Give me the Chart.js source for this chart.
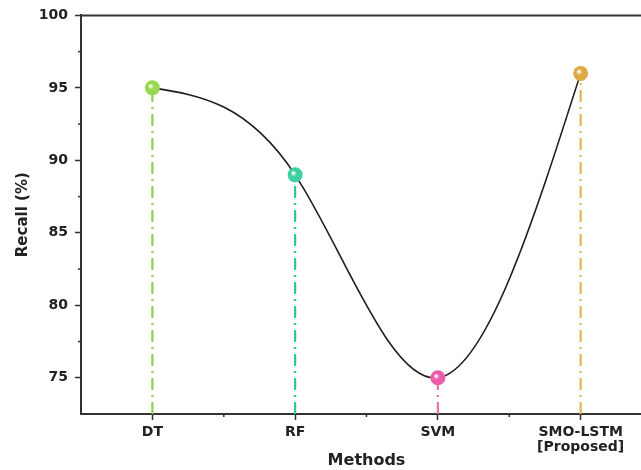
<!DOCTYPE html>
<html>
<head>
<meta charset="utf-8">
<script src="https://cdn.jsdelivr.net/npm/chart.js@4"></script>
<style>
html,body{margin:0;padding:0;background:#fff;overflow:hidden;}
#wrap{width:662px;height:470px;}
</style>
</head>
<body>
<div id="wrap"><canvas id="c" width="662" height="470"></canvas></div>
<script>
const categories = ["DT", "RF", "SVM", ["SMO-LSTM", "[Proposed]"]];
const recall = [95, 89, 75, 96];
const pointColors = ["#97d94e", "#3fd0a2", "#ec5aa8", "#ddaa45"];
const lineColors = ["#8fd24a", "#34c4a0", "#e870b0", "#e3b650"];
const yTicks = [75, 80, 85, 90, 95, 100];

const Y_MIN = 72.5, Y_MAX = 100;
const FONT = "'DejaVu Sans', Arial, sans-serif";

const curveData = recall.map((v, i) => ({x: i, y: v}));

const dropSets = recall.map((v, i) => ({
  type: 'line',
  data: [{x: i, y: Y_MIN}, {x: i, y: v}],
  borderColor: lineColors[i],
  borderWidth: 2.2,
  borderDash: [12, 5, 2, 5],
  pointRadius: 0,
  tension: 0,
  order: 3
}));

function ballColor(ctx) {
  const chart = ctx.chart;
  if (!chart.chartArea || ctx.type !== 'data') return pointColors[ctx.dataIndex] || '#888';
  const xs = chart.scales.x, ys = chart.scales.y;
  const px = xs.getPixelForValue(ctx.dataIndex);
  const py = ys.getPixelForValue(recall[ctx.dataIndex]);
  const g = chart.ctx.createRadialGradient(px - 2, py - 2, 0.5, px, py, 8);
  g.addColorStop(0, '#ffffff');
  g.addColorStop(0.35, pointColors[ctx.dataIndex]);
  g.addColorStop(1, pointColors[ctx.dataIndex]);
  return g;
}

// natural cubic spline slopes through the data (data space)
function splineSlopes(ys) {
  const n = ys.length;
  // second derivatives with natural end conditions, h = 1
  const M = new Array(n).fill(0);
  if (n > 2) {
    const a = [], b = [], c = [], d = [];
    for (let i = 1; i < n - 1; i++) {
      a.push(1); b.push(4); c.push(1);
      d.push(6 * (ys[i - 1] - 2 * ys[i] + ys[i + 1]));
    }
    const m = b.length;
    for (let i = 1; i < m; i++) {
      const w = a[i] / b[i - 1];
      b[i] -= w * c[i - 1];
      d[i] -= w * d[i - 1];
    }
    const sol = new Array(m);
    sol[m - 1] = d[m - 1] / b[m - 1];
    for (let i = m - 2; i >= 0; i--) sol[i] = (d[i] - c[i] * sol[i + 1]) / b[i];
    for (let i = 0; i < m; i++) M[i + 1] = sol[i];
  }
  const s = [];
  for (let i = 0; i < n; i++) {
    if (i < n - 1) s.push((ys[i + 1] - ys[i]) - (2 * M[i] + M[i + 1]) / 6);
    else s.push((ys[i] - ys[i - 1]) + (M[i - 1] + 2 * M[i]) / 6);
  }
  return s;
}

const splineCurve = {
  id: 'splineCurve',
  beforeDatasetsDraw(chart) {
    const c = chart.ctx, xs = chart.scales.x, ys = chart.scales.y;
    const s = splineSlopes(recall);
    const P = (x, y) => [xs.getPixelForValue(x), ys.getPixelForValue(y)];
    c.save();
    c.strokeStyle = '#1e1e1e';
    c.lineWidth = 1.6;
    c.beginPath();
    let p0 = P(0, recall[0]);
    c.moveTo(p0[0], p0[1]);
    for (let i = 0; i < recall.length - 1; i++) {
      const c1 = P(i + 1 / 3, recall[i] + s[i] / 3);
      const c2 = P(i + 2 / 3, recall[i + 1] - s[i + 1] / 3);
      const p1 = P(i + 1, recall[i + 1]);
      c.bezierCurveTo(c1[0], c1[1], c2[0], c2[1], p1[0], p1[1]);
    }
    c.stroke();
    c.restore();
  }
};

const minorTicks = {
  id: 'minorTicks',
  afterDraw(chart) {
    const c = chart.ctx, xs = chart.scales.x, ys = chart.scales.y, a = chart.chartArea;
    c.save();
    c.strokeStyle = '#333';
    c.lineWidth = 1.5;
    for (let v = 77.5; v < Y_MAX; v += 5) {
      const py = ys.getPixelForValue(v);
      c.beginPath(); c.moveTo(a.left, py); c.lineTo(a.left - 3, py); c.stroke();
    }
    for (let i = 0; i < recall.length - 1; i++) {
      const px = xs.getPixelForValue(i + 0.5);
      c.beginPath(); c.moveTo(px, a.bottom); c.lineTo(px, a.bottom + 3); c.stroke();
    }
    c.lineWidth = 2;
    c.beginPath();
    c.moveTo(a.left, a.top); c.lineTo(a.right, a.top); c.lineTo(a.right, a.bottom);
    c.stroke();
    c.restore();
  }
};

new Chart(document.getElementById('c'), {
  data: {
    datasets: [
      {
        type: 'scatter',
        data: curveData,
        pointRadius: 7.5,
        pointBackgroundColor: ballColor,
        pointBorderColor: 'rgba(0,0,0,0)',
        pointBorderWidth: 0,
        order: 1
      },
      ...dropSets
    ]
  },
  options: {
    responsive: false,
    animation: false,
    layout: {padding: {top: 15, right: 10, left: 0, bottom: 0}},
    plugins: {legend: {display: false}, tooltip: {enabled: false}},
    scales: {
      x: {
        type: 'linear',
        min: -0.5,
        max: recall.length - 0.5,
        afterBuildTicks(scale) { scale.ticks = categories.map((c, i) => ({value: i})); },
        afterFit(scale) { scale.height = 56; },
        ticks: {
          callback: (v) => categories[v],
          color: '#222',
          font: {family: FONT, size: 14, weight: 'bold', lineHeight: 1.05},
          padding: 5,
          maxRotation: 0,
          autoSkip: false
        },
        grid: {display: true, drawOnChartArea: false, drawTicks: true, tickLength: 6, tickColor: '#333', tickWidth: 1.5},
        border: {display: true, color: '#333', width: 2},
        title: {display: true, text: 'Methods', color: '#222', font: {family: FONT, size: 16, weight: 'bold'}, padding: {top: 0, bottom: 0}}
      },
      y: {
        min: Y_MIN,
        max: Y_MAX,
        afterBuildTicks(scale) { scale.ticks = yTicks.map(v => ({value: v})); },
        afterFit(scale) { scale.width = 81; },
        ticks: {
          color: '#222',
          font: {family: FONT, size: 14, weight: 'bold'},
          padding: 7
        },
        grid: {display: true, drawOnChartArea: false, drawTicks: true, tickLength: 6, tickColor: '#333', tickWidth: 1.5},
        border: {display: true, color: '#333', width: 2},
        title: {display: true, text: 'Recall (%)', color: '#222', font: {family: FONT, size: 15, weight: 'bold'}, padding: {top: 14, bottom: 4}}
      }
    }
  },
  plugins: [splineCurve, minorTicks]
});
</script>
</body>
</html>
